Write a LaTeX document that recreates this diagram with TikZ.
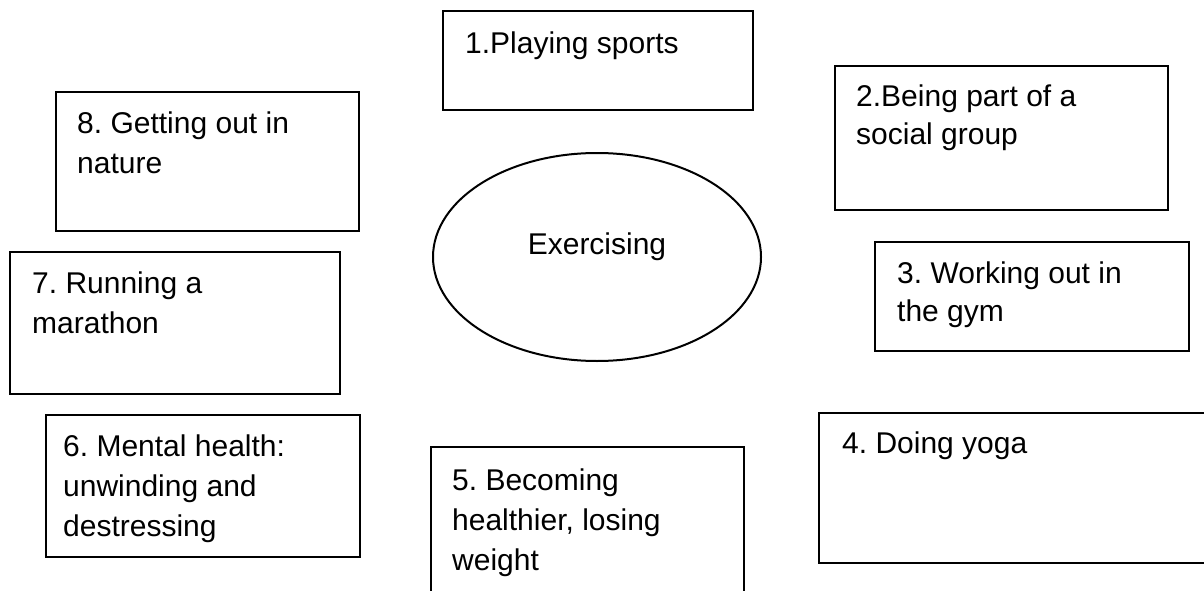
\documentclass[tikz,border=0pt]{standalone}
\usepackage{fontspec}
\setmainfont{Liberation Sans}
\frenchspacing
\usetikzlibrary{shapes.geometric}
\begin{document}
\begin{tikzpicture}[x=1pt,y=-1pt,
  boxline/.style={draw=black,line width=2pt},
  lbl/.style={anchor=base west,inner sep=0pt,align=left,font=\fontsize{30}{40}\selectfont\frenchspacing},
  lbltight/.style={lbl,font=\fontsize{30}{38}\selectfont\frenchspacing}]
\useasboundingbox (0,0) rectangle (1204,591);
\clip (0,0) rectangle (1204,591);
% boxes
\draw[boxline] (443,11) rectangle (753,110);
\draw[boxline] (835,66) rectangle (1168,210);
\draw[boxline] (56,92) rectangle (359,231);
\draw[boxline] (10,252) rectangle (340,394);
\draw[boxline] (875,242) rectangle (1189,351);
\draw[boxline] (46,415) rectangle (360,557);
\draw[boxline] (431,610) -- (431,447) -- (744,447) -- (744,610);
\draw[boxline] (1215,413) -- (819,413) -- (819,563) -- (1215,563);
% ellipse
\node[draw=black,line width=2pt,ellipse,minimum width=328pt,minimum height=208pt,inner sep=0pt] (ex) at (597,257) {};
\node[anchor=base,inner sep=0pt,font=\fontsize{30}{40}\selectfont] (extxt) at (597,254) {Exercising};
% labels (base anchor = baseline of the last line)
\node[lbl] (t1) at (465,54) {1.Playing sports};
\node[lbltight] (t2) at (856,145) {2.Being part of a\\social group};
\node[lbltight] (t3) at (897,321) {3. Working out in\\the gym};
\node[lbl] (t4) at (842,453) {4. Doing yoga};
\node[lbl] (t5) at (452,570) {5. Becoming\\healthier, losing\\weight};
\node[lbl] (t6) at (63,536) {6. Mental health:\\unwinding and\\destressing};
\node[lbl] (t7) at (32,333) {7. Running a\\marathon};
\node[lbl] (t8) at (77,173) {8. Getting out in\\nature};
\end{tikzpicture}
\end{document}
